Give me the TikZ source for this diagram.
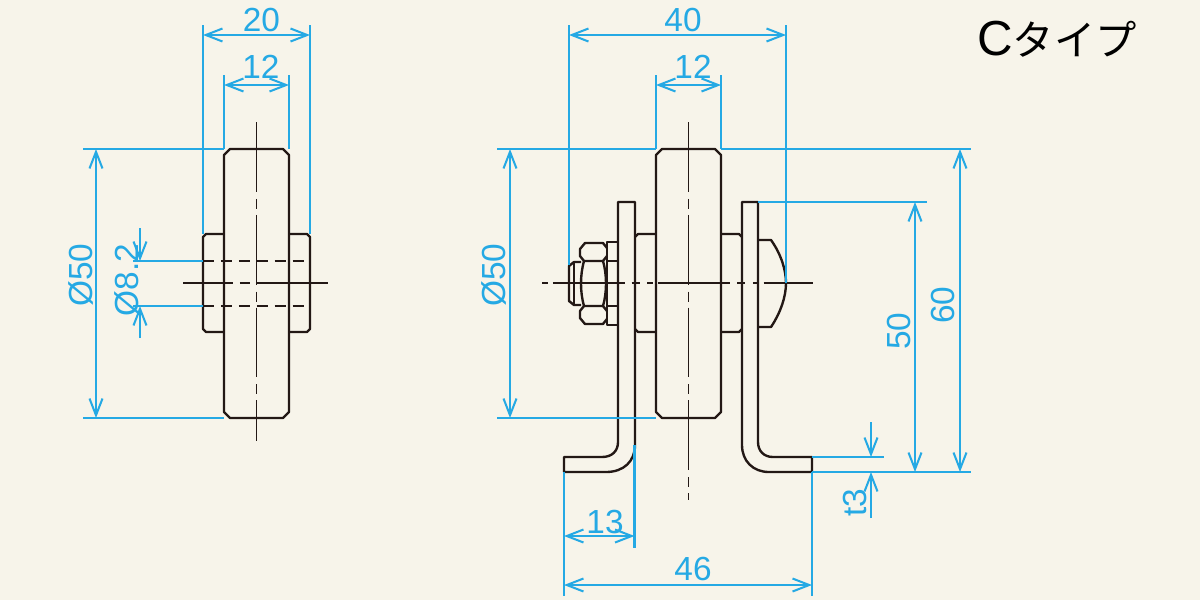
\documentclass[tikz,border=0pt]{standalone}
\usepackage{fontspec}
\setmainfont{Liberation Sans}
\newfontfamily\cjkfont{Noto Sans CJK JP}
\usetikzlibrary{arrows.meta}
\definecolor{paper}{HTML}{F7F4EA}
\definecolor{dimblue}{HTML}{25A9E4}
\definecolor{inkline}{HTML}{231815}
\tikzset{
    outline/.style={draw=inkline, line width=1.35pt, line join=round},
    axisv/.style={draw=inkline, line width=1.05pt, dash pattern=on 39.7pt off 4pt on 5.7pt off 3.4pt},
    axish/.style={draw=inkline, line width=1.05pt},
    bore/.style={draw=inkline, line width=1.15pt, dash pattern=on 6.2pt off 4pt},
    extline/.style={draw=dimblue, line width=1.15pt},
    dimline/.style={draw=dimblue, line width=1.15pt, {Straight Barb[length=9.5pt,width=7.4pt]}-{Straight Barb[length=9.5pt,width=7.4pt]}},
    dimtip/.style={draw=dimblue, line width=1.15pt, -{Straight Barb[length=9.5pt,width=7.4pt]}},
    dimtext/.style={text=dimblue, font=\fontsize{19}{19}\selectfont, inner sep=0pt}
}
\begin{document}
\begin{tikzpicture}[x=.02cm, y=-.02cm]
\fill[paper] (0,0) rectangle (1200,600);
\foreach \cx in {224,656}{
    \draw[outline] (\cx+6,149) -- (\cx+59,149) -- (\cx+65,155) -- (\cx+65,412) -- (\cx+59,418) -- (\cx+6,418) -- (\cx,412) -- (\cx,155) -- cycle;
}
\draw[outline] (224,234) -- (206,234) -- (203,237) -- (203,329) -- (206,332) -- (224,332);
\draw[outline] (289,234) -- (307,234) -- (310,237) -- (310,329) -- (307,332) -- (289,332);
\draw[bore] (203,261) -- (310,261);
\draw[bore] (203,306) -- (310,306);
\draw[axisv] (256.5,122) -- (256.5,441);
\draw[axish, dash pattern=on 28.3pt off 4pt on 5.7pt off 4pt on 41pt] (183,283) -- (328,283);
\draw[outline] (635,202) -- (618,202) -- (618,442) .. controls (618,451) and (612,457) .. (602,457) -- (564,457) -- (564,472) -- (606,472) .. controls (624,472) and (635,461) .. (635,445) -- cycle;
\draw[outline] (742,202) -- (758,202) -- (758,442) .. controls (758,451) and (764,457) .. (773,457) -- (812,457) -- (812,472) -- (769,472) .. controls (753,472) and (742,461) .. (742,445) -- cycle;
\draw[outline] (635,237) -- (638,234) -- (656,234);
\draw[outline] (635,329) -- (638,332) -- (656,332);
\draw[outline] (721,234) -- (739,234) -- (742,237);
\draw[outline] (721,332) -- (739,332) -- (742,329);
\draw[outline] (758,240) -- (771,240) .. controls (781,254) and (786,270) .. (786,283) .. controls (786,296) and (781,312) .. (771,327) -- (758,327);
\draw[outline] (618,242) -- (607,242) -- (607,325) -- (618,325);
\draw[outline] (607,261) -- (618,261);
\draw[outline] (607,306) -- (618,306);
\draw[outline] (607,248) -- (603,243) -- (585,243) -- (580,249) -- (580,256) -- (584,261) -- (603,261) -- (607,256);
\draw[outline] (607,319) -- (603,324) -- (585,324) -- (580,318) -- (580,311) -- (584,306) -- (603,306) -- (607,311);
\draw[outline] (584,261) .. controls (580,275) and (580,292) .. (584,306);
\draw[outline] (603,261) .. controls (607,275) and (607,292) .. (603,306);
\draw[outline] (581,262) -- (574,262) -- (569,266) -- (569,301) -- (574,305) -- (581,305);
\draw[outline] (574,263) -- (574,304);
\draw[axisv] (688.5,122) -- (688.5,500);
\draw[axish, dash pattern=on 3.4pt off 2.8pt on 40.8pt off 4pt on 4.5pt off 4.5pt] (542,283) -- (813,283);
\foreach \x/\ya/\yb in {203/25/234,310/25/234,224/75/149,289/75/149,569/25/265,786/25/283,656/75/149,721/75/149,564/472/596,812/472/596,634.5/445/548}{
    \draw[extline] (\x,\ya) -- (\x,\yb);
}
\foreach \y/\xa/\xb in {149/83/224,418/83/224,261/133/203,306/133/203,149/497/656,149/721/971,418/497/656,202/758/927,457/812/884,472/812/971}{
    \draw[extline] (\xa,\y) -- (\xb,\y);
}
\foreach \xa/\xb/\y in {203/310/35,224/289/85,569/786/35,656/721/85,564/634.5/536,564/812/585}{
    \draw[dimline] (\xa,\y) -- (\xb,\y);
}
\foreach \x/\ya/\yb in {96/149/418,510/149/418,915/202/472,960/149/472}{
    \draw[dimline] (\x,\ya) -- (\x,\yb);
}
\foreach \x/\ya/\yb in {140/228/261,140/338/306,871/422/457,871/518/472}{
    \draw[dimtip] (\x,\ya) -- (\x,\yb);
}
\node[dimtext] (wheelwidth) at (261.5,20) {20};
\node[dimtext] (wheelbore) at (261,67) {12};
\node[dimtext, rotate=90] (leftdia) at (81,275) {Ø50};
\node[dimtext, rotate=90] (leftbore) at (127,280) {Ø8.2};
\node[dimtext] (rightwidth) at (683,20) {40};
\node[dimtext] (rightbore) at (693,67) {12};
\node[dimtext, rotate=90] (rightdia) at (494,275) {Ø50};
\node[dimtext, rotate=90] (holeheight) at (899,331) {50};
\node[dimtext, rotate=90] (totalheight) at (943,305) {60};
\node[dimtext, rotate=90] (thick) at (855,503) {t3};
\node[dimtext] (footwidth) at (605,522) {13};
\node[dimtext] (basewidth) at (693,569) {46};
\node[inner sep=0pt, text=black] (typename) at (1057,39) {\fontsize{28}{28}\selectfont C\cjkfont\fontsize{23.5}{23.5}\selectfont タイプ};
\end{tikzpicture}
\end{document}
